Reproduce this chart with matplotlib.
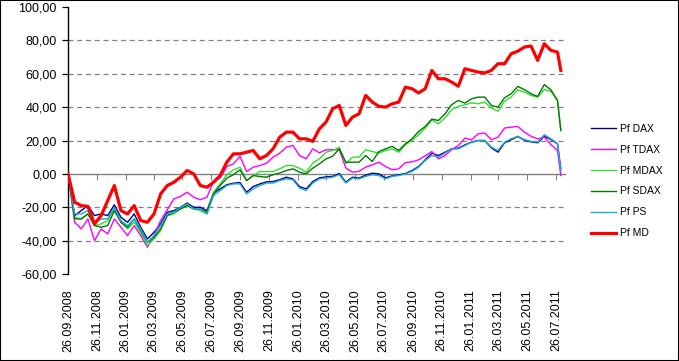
import matplotlib
matplotlib.use("Agg")
import matplotlib.pyplot as plt
import matplotlib.dates as mdates
import pandas as pd

plt.rcParams['font.family'] = ['Liberation Sans', 'DejaVu Sans']

# fortnightly values, plus the last week
dates = list(pd.date_range('2008-09-26', periods=75, freq='14D')) + [pd.Timestamp('2011-08-05')]

pf_dax = [0, -25, -22, -19, -25, -24, -25, -18.5, -26, -29, -24, -32, -39, -35, -30, -23,
          -22, -20, -17.5, -20, -20, -22, -11.5, -9, -6.5, -5.6, -5.2, -11, -7.6, -6, -4.8,
          -4.6, -3.5, -2, -3, -7.6, -9, -4.6, -2.4, -1.8, -1.5, 0.2, -5, -2, -2.5, -0.8, 0.4,
          0, -2.4, -1.2, -0.6, 0.2, 2, 4.4, 8.4, 12.4, 11, 13, 15, 15.4, 17.4, 19, 20, 20,
          15.6, 13, 18.6, 20.5, 22.4, 20.2, 19.2, 18.6, 22.5, 20.6, 18, 3]
pf_tdax = [0, -29, -33, -27, -40, -33, -36, -27, -32, -37, -31, -37, -44, -37, -28, -21.5,
           -15, -13.5, -11, -14, -15.5, -14, -4.5, -2.5, 4.4, 6, 10.4, 1.4, 4, 5, 6.4,
           10, 12.4, 16, 17, 11, 9, 15, 12.6, 14.4, 14.5, 14.4, 3.5, 1, 1.5, 4, 5.4,
           7, 4.4, 2.5, 3, 6.8, 7.2, 8.4, 10.8, 13.4, 9, 11, 14.5, 17, 21.4, 20.4, 24, 24.5,
           20.5, 22, 27.5, 28, 28.4, 25, 22.5, 21, 22, 17.6, 14, -1]
pf_mdax = [0, -26, -27, -24, -31, -30, -28, -21, -29, -33, -29, -35, -43, -39, -34, -25,
           -24, -21, -19, -21, -22, -24, -11, -6, -0.6, 2.4, 4, -4, -1, 1.4, 1.4,
           1.4, 3, 5, 5, 3.4, 1, 6.4, 9, 13, 14, 16, 6, 10, 10, 14.5, 13.4,
           12.4, 14, 15, 13, 17.5, 20, 23.4, 27.4, 32.3, 30, 33.5, 38.5, 40.4, 41.4, 42.5, 42, 43,
           39.5, 37.5, 43.6, 46, 50.4, 49, 47, 46, 50.5, 49.4, 44, 26]
pf_sdax = [0, -27, -27, -24, -31, -32, -31, -22, -29, -32, -27, -34, -41, -38, -33, -25,
           -23, -21, -19, -21, -21, -23, -12, -7, -2.6, -0.5, 2.4, -4, -1, -1.6, -2,
           -0.5, 0.5, 2, 3, 1, 0, 3.4, 6, 9, 10.5, 15, 7, 7, 7, 11, 7.4,
           13.4, 15, 16.5, 14, 18, 21, 25.4, 28.4, 32.8, 32, 36, 41.5, 44, 42.4, 45, 46, 46,
           41, 40, 45.6, 48, 52.4, 50.5, 48, 46.4, 53.5, 50.4, 44, 26]
pf_ps = [0, -24, -24, -22, -29, -27, -27, -20, -28, -31, -27, -33, -41, -37, -31, -24,
         -23, -20, -18, -21, -21, -24, -13, -10, -7, -6, -6, -12, -9, -7, -5.5,
         -5.5, -4, -3, -3.5, -8.5, -10, -5.5, -3, -2.5, -2, -0.5, -5.5, -2.5, -3, -1.5, -0.5,
         -1, -3, -1.5, -1, 0, 1.5, 4, 8, 11, 10, 12.5, 15, 15, 17, 19, 20, 20,
         16, 14, 19, 21, 22.5, 20.5, 19.5, 19, 23.5, 21, 18, 2]
pf_md = [0, -17, -19, -19.5, -30, -25, -16, -7, -22, -24, -19, -28, -29, -24, -12, -7,
         -5, -2, 2, 0, -7, -8, -5, -1, 7, 12, 12, 13, 14, 9, 11,
         15, 22, 25, 25, 21, 21, 19.5, 27, 31, 39, 41, 29, 34, 36, 47, 43,
         40.5, 40, 42, 43, 52, 51, 48.5, 51, 62, 57, 57, 55, 52.5, 63, 62, 61, 60.5,
         62, 66, 66, 72, 73.5, 76, 76.6, 68, 78, 74, 73, 62]

series = [
    ("Pf DAX", pf_dax, "#000080", 1.0),
    ("Pf TDAX", pf_tdax, "#FF00FF", 1.0),
    ("Pf MDAX", pf_mdax, "#33DD33", 1.0),
    ("Pf SDAX", pf_sdax, "#007A00", 1.0),
    ("Pf PS", pf_ps, "#1EA8E0", 1.0),
    ("Pf MD", pf_md, "#FF0000", 2.3),
]

# every second month on the 26th
tick_dates = pd.date_range('2008-09-01', '2011-07-01', freq='2MS') + pd.Timedelta(days=25)

fig = plt.figure(figsize=(6.79, 3.61), dpi=100)
ax = fig.add_axes([0.1002, 0.241, 0.732, 0.7396])

for y in [-40, -20, 20, 40, 60, 80]:
    ax.axhline(y, color="#808080", lw=0.9, ls=(0, (4, 3)), zorder=1)

for name, vals, col, lw in series:
    ax.plot(dates, vals, color=col, lw=lw, label=name, zorder=3)

ax.set_ylim(-60, 100)
ax.set_xlim(pd.Timestamp('2008-09-26'), pd.Timestamp('2011-08-14'))
ax.set_yticks(range(-60, 101, 20))
ax.set_yticklabels([f"{v:.2f}".replace('.', ',') for v in range(-60, 101, 20)], fontsize=9)
ax.set_xticks(tick_dates)
ax.xaxis.set_major_formatter(mdates.DateFormatter('%d.%m.%Y'))
ax.tick_params(axis='x', length=0, pad=11, labelsize=9, labelrotation=90)
ax.tick_params(axis='y', length=4, width=0.9, pad=4, direction='out')

for s in ['top', 'right', 'bottom']:
    ax.spines[s].set_visible(False)
ax.spines['left'].set_linewidth(1.0)

# axis line at zero with its small ticks
zax = ax.secondary_xaxis(0.375)
zax.set_xticks(tick_dates)
zax.set_xticklabels([])
zax.tick_params(length=4, width=0.8, color="#808080", direction='out')
zax.spines['bottom'].set_color("#808080")
zax.spines['bottom'].set_linewidth(1.0)

fig.legend(loc='center left', bbox_to_anchor=(0.862, 0.4986), frameon=False,
           fontsize=7.5, handlelength=2.4, handletextpad=0.4, labelspacing=1.05,
           borderpad=0)

fig.patches.append(plt.Rectangle((0, 0), 1, 1, transform=fig.transFigure, fill=False,
                                 edgecolor="black", lw=1.5))

fig.savefig("out.png", dpi=100)
